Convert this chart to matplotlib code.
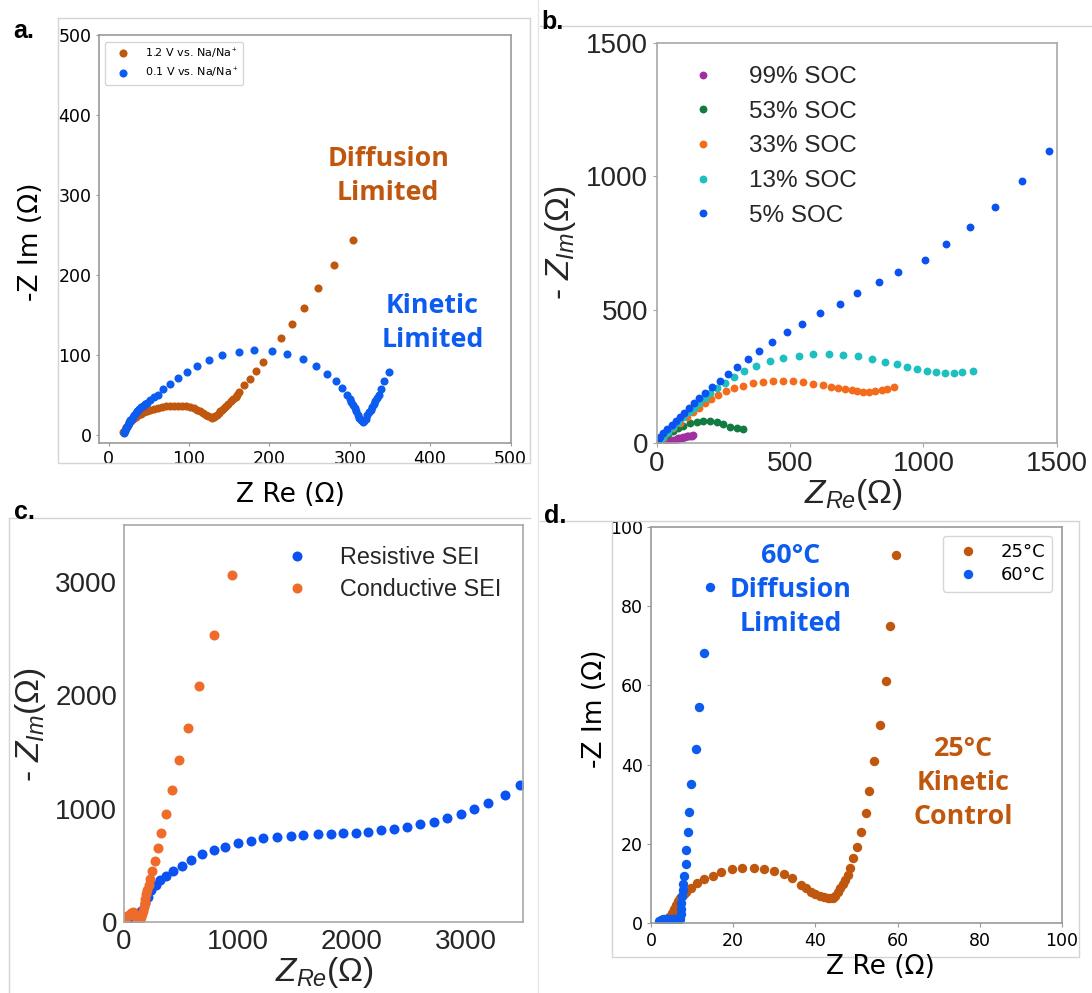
import matplotlib
matplotlib.use('Agg')
import matplotlib.pyplot as plt
from matplotlib.lines import Line2D

plt.rcParams['mathtext.fontset'] = 'custom'
plt.rcParams['mathtext.rm'] = 'Liberation Sans'
plt.rcParams['mathtext.it'] = 'Liberation Sans:italic'
plt.rcParams['mathtext.bf'] = 'Liberation Sans:bold'

W, H = 1092, 993

# ---- panel a: 1.2 V / 0.1 V vs Na/Na+
a_x_12 = [18.5, 20, 22, 24, 26, 28, 31, 34, 37, 40, 44, 48, 52, 56, 61, 66, 71, 76, 81, 86,
          91, 96, 101, 106, 110, 114, 118, 121, 124, 127, 129, 131, 133, 135, 137, 139, 141, 143, 146, 149,
          152, 155, 158, 160, 162, 169, 175.6, 183.5, 192, 214, 227.6, 243, 261, 281, 304.5]
a_y_12 = [3, 6, 9, 12, 14.5, 17, 19.5, 22, 24, 26, 28, 29.5, 31, 32.5, 33.8, 34.8, 35.5, 36, 36.3, 36.3,
          36, 35.5, 34.5, 33, 31, 29, 27, 25, 23, 21.5, 21, 21.5, 23, 25, 27, 29, 31, 33, 35.5, 38.5,
          41.5, 44.5, 47, 50, 53, 62, 70, 80, 91.5, 120.7, 138, 158.7, 183, 211.8, 244]
a_x_01 = [19, 20, 21, 22, 23, 24, 25, 26, 27, 29, 30, 32, 34, 36, 38, 40, 43, 45, 48,
          52, 56, 61, 68, 77, 86, 97, 110, 124.5, 141, 162, 181, 203, 222, 242, 258, 272, 283, 291, 297,
          300, 302, 304, 306, 308, 310, 312, 314, 316, 318, 320, 322, 324, 326, 328, 330, 332, 334, 336, 339,
          343, 349]
a_y_01 = [2, 4, 6, 8, 10, 12, 14, 16, 18, 20, 22, 25, 27, 30, 32, 34, 36, 38, 40,
          43, 47, 50, 57, 63.5, 71, 78, 86, 94, 99.5, 104, 106.5, 105, 101.5, 95, 86.5, 76.5, 67, 58, 49,
          45, 41, 37, 33, 29, 25, 21, 18, 16, 17, 20, 24, 28, 31, 34, 38, 42, 46, 50, 57.5,
          67, 78.5]

# ---- panel b: state of charge
b99_x = [138, 132, 126, 119, 113, 107, 100, 94, 88, 82, 76, 70, 63, 57, 50, 44, 38]
b99_y = [29, 27, 25, 24.5, 24, 22, 20, 19, 17.6, 16, 14, 12, 10, 7.5, 5, 2.5, 0.5]
b53_x = [325, 300, 275, 250, 225, 200, 175, 150.5, 125.5, 100, 81.6, 63, 44, 28, 15.7, 7]
b53_y = [50, 54, 60, 69, 76.6, 81.5, 82.6, 79, 73, 64, 54, 44, 32.7, 20, 10, 2.6]
b33_x = [889, 864, 843, 818, 797, 774, 752, 731, 706, 681, 652, 622, 587, 550, 512, 475, 437, 398, 360, 323,
         290, 260, 231, 203, 182, 160, 138, 113, 88, 63, 40.5, 23, 10.5]
b33_y = [208, 201.7, 196.8, 194, 191.6, 191.6, 194, 198, 203, 206.6, 210, 215.5, 220.5, 227, 230.6, 233, 233,
         229, 223, 214, 204, 194, 179, 163, 148, 131.5, 114, 95, 75, 54, 35, 16.5, 4]
b13_x = [1185, 1146, 1114, 1080, 1047, 1012, 974, 937, 899, 856, 808, 754, 700, 645, 588, 533, 475, 424, 374, 328,
         289, 256, 225, 200, 180, 160, 140, 120, 100, 80, 60, 42, 25, 12, 5]
b13_y = [270, 264, 260.5, 260.5, 267, 269, 276, 284, 294, 304, 314, 324, 329, 334, 332, 327, 317, 305, 288, 270,
         248, 225, 205, 185, 168, 150, 132, 114, 96, 77, 58, 40, 23, 10, 3]
b5_x = [1471, 1370, 1267, 1175, 1086, 1007, 904, 833, 750, 688, 613, 546, 489, 434, 385, 341.5, 302, 269, 238.6, 207,
        180.5, 159.5, 141, 122.5, 104, 88, 72.6, 56.5, 41, 25, 12, 4]
b5_y = [1096, 983, 885, 810, 745, 687, 642, 602, 561, 521, 488, 446, 415, 377, 344, 314, 286, 258, 233, 208,
        185.5, 167, 148, 131.5, 113, 97.6, 82.6, 66.5, 50, 35, 20, 7.5]

# ---- panel c: SEI
c_res_x = [3477, 3341, 3198, 3075, 2954, 2836, 2721, 2600, 2485, 2367, 2252, 2146, 2040, 1919, 1814, 1699, 1572,
           1467, 1345, 1224, 1112, 997, 886, 786, 689, 589, 505, 432, 371, 320, 280, 241, 211, 181, 151, 121,
           90, 60, 30, 5]
c_res_y = [1208, 1120, 1052, 997, 952, 914, 884, 861, 840, 820, 808, 794, 787.5, 782, 776, 773, 767,
           761, 747, 738, 717, 699, 664, 635, 597, 547, 497, 452, 406, 370, 330, 282, 223, 165, 100, 47,
           25, 15, 8, 2]
c_con_x = [951, 792, 659, 562, 480, 417, 371, 326, 296, 272, 250, 232, 218, 206, 196, 188, 180, 172, 164, 156,
           148, 140, 130, 118, 105, 90, 75, 60, 45, 30, 15, 3]
c_con_y = [3060, 2531, 2084, 1714, 1431, 1164, 950, 782, 650, 538, 450, 380, 330, 285, 245, 205, 170, 135, 100, 70,
           40, 15, 5, 15, 40, 70, 85, 80, 65, 50, 35, 20]

# ---- panel d: temperature
d25_x = [4.5, 5, 5.5, 6, 6.5, 7, 7.5, 8, 8.5, 9.8, 11.3, 13, 15, 17.1, 19.7, 22.2, 25, 27.5, 29.9, 32.3,
         34.2, 36.4, 37.7, 38.9, 40, 41, 42, 43, 43.6, 44.2, 44.8, 45.4, 46, 46.6, 47.2, 47.9, 48.4, 49.2,
         50.2, 51.1, 52.2, 53.1, 54.2, 55.8, 57.1, 58.2, 59.7]
d25_y = [1.5, 2.5, 3.5, 4.5, 5.5, 6.3, 7, 7.5, 8, 9, 10.1, 11.1, 12, 12.9, 13.6, 14, 14, 13.7, 13.2, 12.4,
         11.3, 9.7, 8.8, 8, 7.4, 6.9, 6.6, 6.4, 6.3, 6.5, 7, 7.8, 8.8, 9.9, 11, 12.2, 13.9, 16.4,
         19.3, 23.1, 27.9, 33.4, 40.8, 50, 61.1, 75, 92.9]
d60_x = [2, 2.5, 3, 3.5, 4, 4.5, 5, 5.5, 6, 6.5, 7, 7.2, 7.3, 7.4, 7.5, 7.7, 7.9, 8.1, 8.4, 8.6,
         9, 9.2, 9.8, 10.9, 11.8, 12.9, 14.4]
d60_y = [0.5, 0.8, 1, 1, 1, 1, 1, 1, 1, 1, 1.2, 2.3, 3.5, 5.2, 6.8, 8.5, 10, 12, 15, 18.5,
         22.9, 28.1, 35.1, 44, 54.6, 68.1, 84.9]

ORANGE = '#c0570f'
BLUE = '#0d5cf0'
NOTE_FONT = 'Open Sans'
NOTE_SIZE = 19.3
NOTE_SPACING = 1.4


def box(l, r, t, b):
    return [l / W, 1 - b / H, (r - l) / W, (b - t) / H]


def ftext(x, y, s, **kw):
    fig.text(x / W, 1 - y / H, s, **kw)


def fline(xs, ys, color='#d4d4d4', lw=1.0):
    fig.add_artist(Line2D([x / W for x in xs], [1 - y / H for y in ys],
                          transform=fig.transFigure, color=color, lw=lw))


def style_axes(ax, spine='#9a9a9a', size=12.5, family='DejaVu Sans', color='black', length=2.5, pad=2.5):
    for s in ax.spines.values():
        s.set_color(spine)
        s.set_linewidth(1.2)
    ax.tick_params(colors=spine, labelcolor=color, labelsize=size, length=length, pad=pad)
    for lab in ax.get_xticklabels() + ax.get_yticklabels():
        lab.set_family(family)


fig = plt.figure(figsize=(W / 100, H / 100), dpi=100)

# image borders of the composed panels
fline([58, 530, 530, 58, 58], [18, 18, 463, 463, 18])
fline([540, 1092], [25.7, 25.7])
fline([9, 530], [518, 518])
fline([9, 9], [518, 993])
fline([538, 538], [0, 993], color='#e6e6e6')
fline([540, 1079, 1079, 611.5, 611.5], [521, 521, 957, 957, 521])

# ---------------- a ----------------
ax = fig.add_axes(box(98.5, 510.5, 35.3, 443))
ax.scatter(a_x_12, a_y_12, s=34, color=ORANGE, lw=0, label='1.2 V vs. Na/Na$^+$')
ax.scatter(a_x_01, a_y_01, s=34, color=BLUE, lw=0, label='0.1 V vs. Na/Na$^+$')
ax.set_xlim(-12.5, 500)
ax.set_ylim(-10.5, 500)
ax.set_xticks(range(0, 501, 100))
ax.set_yticks(range(0, 501, 100))
style_axes(ax)
ax.legend(loc='upper left', bbox_to_anchor=(0.016, 0.984), borderaxespad=0, fontsize=8,
          handlelength=2.4, handletextpad=0.8, scatterpoints=1, scatteryoffsets=[0.5])
ax.text(348, 324, 'Diffusion\nLimited', color=ORANGE, fontsize=NOTE_SIZE, fontweight='bold',
        family=NOTE_FONT, ha='center', va='center', linespacing=NOTE_SPACING)
ax.text(403, 140, 'Kinetic\nLimited', color=BLUE, fontsize=NOTE_SIZE, fontweight='bold',
        family=NOTE_FONT, ha='center', va='center', linespacing=NOTE_SPACING)
ftext(31, 242, '-Z Im (Ω)', fontsize=19, rotation=90, ha='center', va='center')
ftext(290, 495, 'Z Re (Ω)', fontsize=19, ha='center', va='center')
ftext(13, 31, 'a.', fontsize=18, fontweight='bold', family='Liberation Sans', va='center')

# ---------------- b ----------------
ax = fig.add_axes(box(656.5, 1057, 43.3, 442.7))
ax.scatter(b99_x, b99_y, s=32, color='#a0309f', lw=0, label='99% SOC')
ax.scatter(b53_x, b53_y, s=32, color='#137a40', lw=0, label='53% SOC')
ax.scatter(b33_x, b33_y, s=32, color='#f46b1c', lw=0, label='33% SOC')
ax.scatter(b13_x, b13_y, s=32, color='#1dbfbf', lw=0, label='13% SOC')
ax.scatter(b5_x, b5_y, s=32, color='#0a52f2', lw=0, label='5% SOC')
ax.set_xlim(0, 1500)
ax.set_ylim(0, 1500)
ax.set_xticks([0, 500, 1000, 1500])
ax.set_yticks([0, 500, 1000, 1500])
style_axes(ax, spine='#a8a8a8', size=20, family='Liberation Sans', color='#262626', length=3, pad=3)
leg = ax.legend(loc='upper left', bbox_to_anchor=(0.086, 0.943), borderaxespad=0, borderpad=0,
                frameon=False, handlelength=1.0, handletextpad=1.4, labelspacing=0.52,
                scatterpoints=1, scatteryoffsets=[0.5], prop={'family': 'Liberation Sans', 'size': 17.5})
for t in leg.get_texts():
    t.set_color('#262626')
ftext(560, 243, '- $Z_{Im}$(Ω)', fontsize=24, family='Liberation Sans', color='#262626',
      rotation=90, ha='center', va='center')
ftext(853, 495, '$Z_{Re}$(Ω)', fontsize=24, family='Liberation Sans', color='#262626',
      ha='center', va='center')
ftext(541, 22, 'b.', fontsize=18, fontweight='bold', family='Liberation Sans', va='center')

# ---------------- c ----------------
ax = fig.add_axes(box(124, 522.7, 525, 922))
ax.scatter(c_res_x, c_res_y, s=52, color='#0a52f2', lw=0, label='Resistive SEI')
ax.scatter(c_con_x, c_con_y, s=52, color='#ee6b2a', lw=0, label='Conductive SEI')
ax.set_xlim(0, 3500)
ax.set_ylim(0, 3500)
ax.set_xticks([0, 1000, 2000, 3000])
ax.set_yticks([0, 1000, 2000, 3000])
style_axes(ax, spine='#a8a8a8', size=20, family='Liberation Sans', color='#262626', length=0, pad=5)
leg = ax.legend(loc='upper left', bbox_to_anchor=(0.404, 0.946), borderaxespad=0, borderpad=0,
                frameon=False, handlelength=1.0, handletextpad=1.35, labelspacing=0.38,
                scatterpoints=1, scatteryoffsets=[0.5], prop={'family': 'Liberation Sans', 'size': 16.8})
for t in leg.get_texts():
    t.set_color('#262626')
ftext(31, 725, '- $Z_{Im}$(Ω)', fontsize=24, family='Liberation Sans', color='#262626',
      rotation=90, ha='center', va='center')
ftext(324, 973, '$Z_{Re}$(Ω)', fontsize=24, family='Liberation Sans', color='#262626',
      ha='center', va='center')
ftext(14, 512, 'c.', fontsize=18, fontweight='bold', family='Liberation Sans', va='center')

# ---------------- d ----------------
ax = fig.add_axes(box(651, 1062, 526.7, 923.3))
ax.scatter(d25_x, d25_y, s=46, color=ORANGE, lw=0, label='25°C')
ax.scatter(d60_x, d60_y, s=46, color=BLUE, lw=0, label='60°C')
ax.set_xlim(0, 100)
ax.set_ylim(0, 100)
ax.set_xticks(range(0, 101, 20))
ax.set_yticks(range(0, 101, 20))
style_axes(ax, size=12.5, length=3, pad=3)
ax.legend(loc='upper right', bbox_to_anchor=(0.976, 0.977), borderaxespad=0, fontsize=13,
          labelspacing=0.3, scatterpoints=1, scatteryoffsets=[0.5])
ax.text(34, 84, '60°C\nDiffusion\nLimited', color=BLUE, fontsize=NOTE_SIZE, fontweight='bold',
        family=NOTE_FONT, ha='center', va='center', linespacing=NOTE_SPACING)
ax.text(76, 35.4, '25°C\nKinetic\nControl', color=ORANGE, fontsize=NOTE_SIZE, fontweight='bold',
        family=NOTE_FONT, ha='center', va='center', linespacing=NOTE_SPACING)
ftext(594.6, 709, '-Z Im (Ω)', fontsize=19, rotation=90, ha='center', va='center')
ftext(880, 967, 'Z Re (Ω)', fontsize=19, ha='center', va='center')
ftext(544, 516, 'd.', fontsize=18, fontweight='bold', family='Liberation Sans', va='center')

fig.savefig('out.png', dpi=100)
